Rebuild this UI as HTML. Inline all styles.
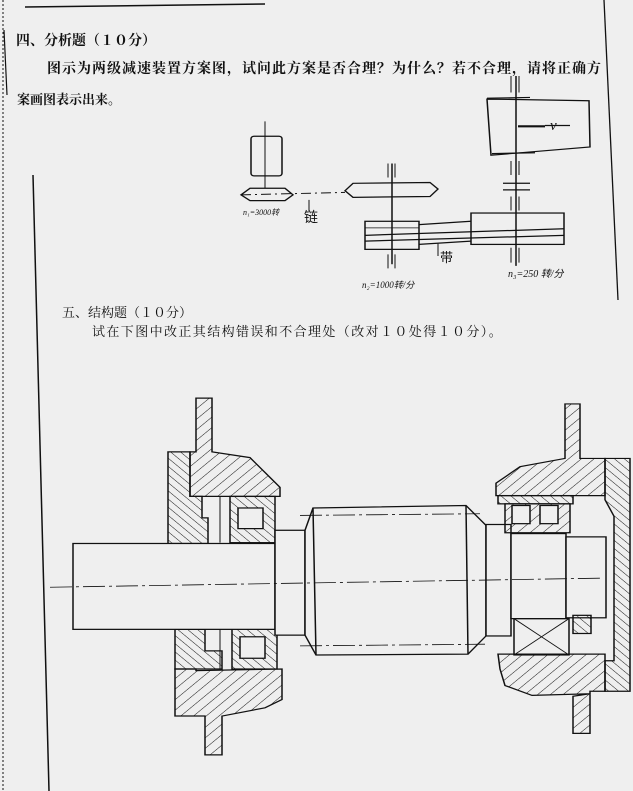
<!DOCTYPE html>
<html><head><meta charset="utf-8"><style>
html,body{margin:0;padding:0;background:#efefef;}
body{width:633px;height:791px;position:relative;overflow:hidden;font-family:"Liberation Serif","Noto Serif CJK SC","Noto Sans CJK SC",serif;color:#111;}
.t{position:absolute;white-space:nowrap;font-weight:bold;}
</style></head><body>
<div class="t" style="left:16px;top:30px;font-size:14px;">四、分析题（１０分）</div>
<div class="t" style="left:47px;top:58px;font-size:14px;letter-spacing:1px;">图示为两级减速装置方案图，试问此方案是否合理？为什么？若不合理，请将正确方</div>
<div class="t" style="left:17px;top:89px;font-size:13px;">案画图表示出来。</div>
<div class="t" style="left:62px;top:302px;font-size:13px;font-weight:normal;">五、结构题（１０分）</div>
<div class="t" style="left:92px;top:321px;font-size:13px;font-weight:normal;letter-spacing:1.4px;">试在下图中改正其结构错误和不合理处（改对１０处得１０分）。</div>
<svg width="633" height="791" style="position:absolute;left:0;top:0" xmlns="http://www.w3.org/2000/svg">
<defs>
<pattern id="h" width="9" height="9" patternUnits="userSpaceOnUse" patternTransform="rotate(45)"><line x1="0" y1="0" x2="0" y2="9" stroke="#111" stroke-width="1.1"/></pattern>
<pattern id="h2" width="7" height="7" patternUnits="userSpaceOnUse" patternTransform="rotate(-45)"><line x1="0" y1="0" x2="0" y2="7" stroke="#111" stroke-width="1.1"/></pattern>
</defs>
<g stroke="#111" fill="none" stroke-width="1.5">
<line x1="25" y1="7" x2="265" y2="4"/>
<line x1="3" y1="0" x2="3" y2="791" stroke-dasharray="2,2" stroke-width="1"/>
<line x1="4" y1="30" x2="7" y2="95" stroke-width="1.2"/>
<line x1="33" y1="175" x2="49" y2="791" stroke-width="1.5"/>
<line x1="604" y1="0" x2="618" y2="300" stroke-width="1.3"/>
</g>
<g stroke="#111" fill="none" stroke-width="1.5" transform="scale(1,0.8257)">
<rect x="251" y="165" width="31" height="48" rx="3"/>
<line x1="265" y1="147" x2="265" y2="228" stroke-width="1"/>
<path d="M241 236 L250 228 L285 228 L293 236 L285 243 L250 243 Z"/>
<line x1="241" y1="236" x2="345" y2="233" stroke-dasharray="10,4,2,4" stroke-width="1.2"/>
<path d="M345 231 L353 222 L430 221 L438 229 L430 238 L353 239 Z"/>
<line x1="392" y1="198" x2="392" y2="320"/>
<line x1="388" y1="198" x2="388" y2="215" stroke-width="1"/><line x1="395" y1="198" x2="395" y2="215" stroke-width="1"/>
<line x1="388" y1="308" x2="388" y2="325" stroke-width="1"/><line x1="395" y1="308" x2="395" y2="325" stroke-width="1"/>
<rect x="365" y="268" width="54" height="34"/>
<line x1="365" y1="276" x2="419" y2="276" stroke-width="1"/><line x1="365" y1="285" x2="564" y2="277"/><line x1="365" y1="292" x2="564" y2="285"/>
<line x1="419" y1="272" x2="471" y2="268"/><line x1="419" y1="296" x2="471" y2="292"/>
<rect x="471" y="258" width="93" height="38"/>
<line x1="516" y1="92" x2="516" y2="322"/>
<line x1="511" y1="92" x2="511" y2="112" stroke-width="1"/><line x1="519" y1="92" x2="519" y2="112" stroke-width="1"/>
<line x1="511" y1="195" x2="511" y2="212" stroke-width="1"/><line x1="519" y1="195" x2="519" y2="212" stroke-width="1"/>
<line x1="503" y1="222" x2="530" y2="222"/><line x1="503" y1="230" x2="530" y2="230"/>
<line x1="511" y1="238" x2="511" y2="255" stroke-width="1"/><line x1="519" y1="238" x2="519" y2="255" stroke-width="1"/>
<line x1="511" y1="300" x2="511" y2="318" stroke-width="1"/><line x1="519" y1="300" x2="519" y2="318" stroke-width="1"/>
<path d="M487 120 L589 122 L590 178 L491 188 Z"/>
<line x1="487" y1="119" x2="530" y2="118"/><line x1="492" y1="186" x2="535" y2="185"/>
<line x1="518" y1="153" x2="545" y2="153" stroke-width="2.5"/><line x1="545" y1="152" x2="570" y2="152"/>
<line x1="309" y1="256" x2="309" y2="242" stroke-width="1"/><line x1="438" y1="295" x2="438" y2="310" stroke-width="1"/>
</g>
<g fill="#111" font-family="Liberation Serif,serif" font-style="italic">
<text x="550" y="130" font-size="15">v</text>
<text x="243" y="215" font-size="8">n₁=3000转</text>
<text x="304" y="222" font-size="14" font-style="normal" font-family="Noto Sans CJK SC,sans-serif">链</text>
<text x="440" y="262" font-size="13" font-style="normal" font-family="Noto Sans CJK SC,sans-serif">带</text>
<text x="362" y="288" font-size="9">n₂=1000转/分</text>
<text x="508" y="277" font-size="10">n₃=250 转/分</text>
</g>
<g stroke="#111" fill="none" stroke-width="1.5" transform="translate(0,66.23) scale(1,0.8257)">
<path d="M196 402 L212 402 L212 467 L250 474 L270 498 L280 510 L280 521 L190 521 L190 467 L196 467 Z" fill="url(#h)"/>
<path d="M168 467 L190 467 L190 521 L202 521 L202 547 L208 547 L208 578 L175 578 L168 578 Z" fill="url(#h2)"/>
<rect x="230" y="521" width="45" height="56" fill="url(#h2)"/>
<rect x="238" y="535" width="25" height="25" fill="#efefef"/>
<line x1="220" y1="521" x2="220" y2="577" stroke-width="1"/>
<path d="M175 682 L205 682 L205 708 L222 708 L222 730 L175 730 Z" fill="url(#h2)"/>
<path d="M175 730 L196 730 L196 732 L282 730 L282 767 L265 777 L222 787 L222 834 L205 834 L205 787 L175 787 Z" fill="url(#h)"/>
<rect x="232" y="680" width="45" height="50" fill="url(#h2)"/>
<rect x="240" y="691" width="25" height="26" fill="#efefef"/>
<line x1="220" y1="680" x2="220" y2="730" stroke-width="1"/>
<rect x="73" y="578" width="202" height="104" fill="#efefef"/>
<rect x="275" y="562" width="30" height="127" fill="#efefef"/>
<path d="M305 562 L313 535 L466 532 L486 556 L486 690 L468 712 L316 713 L305 689 Z" fill="#efefef"/>
<line x1="313" y1="535" x2="316" y2="713"/><line x1="466" y1="532" x2="468" y2="712"/>
<rect x="486" y="555" width="25" height="135" fill="#efefef"/>
<rect x="511" y="566" width="55" height="103" fill="#efefef"/>
<rect x="566" y="570" width="40" height="98" fill="#efefef"/>
<line x1="50" y1="631" x2="600" y2="620" stroke-dasharray="22,4,3,4" stroke-width="1"/>
<line x1="300" y1="544" x2="480" y2="542" stroke-dasharray="22,4,3,4" stroke-width="1"/>
<line x1="300" y1="702" x2="485" y2="700" stroke-dasharray="22,4,3,4" stroke-width="1"/>
<path d="M565 409 L580 409 L580 475 L605 475 L605 520 L496 520 L496 505 L520 485 L565 475 Z" fill="url(#h)"/>
<path d="M605 475 L630 475 L630 757 L605 757 L605 720 L614 720 L614 545 L605 525 Z" fill="url(#h2)"/>
<rect x="498" y="520" width="75" height="10" fill="url(#h2)"/>
<rect x="505" y="530" width="65" height="35" fill="url(#h)"/>
<rect x="512" y="532" width="18" height="22" fill="#efefef"/><rect x="540" y="532" width="18" height="22" fill="#efefef"/>
<rect x="514" y="669" width="55" height="44"/>
<line x1="514" y1="669" x2="569" y2="713" stroke-width="1"/><line x1="569" y1="669" x2="514" y2="713" stroke-width="1"/>
<rect x="573" y="665" width="18" height="22" fill="url(#h2)"/>
<path d="M498 712 L605 712 L605 757 L590 757 L590 760 L573 763 L573 808 L590 808 L590 760 L532 762 L505 750 L500 730 Z" fill="url(#h)"/>
</g>
</svg>
</body></html>
